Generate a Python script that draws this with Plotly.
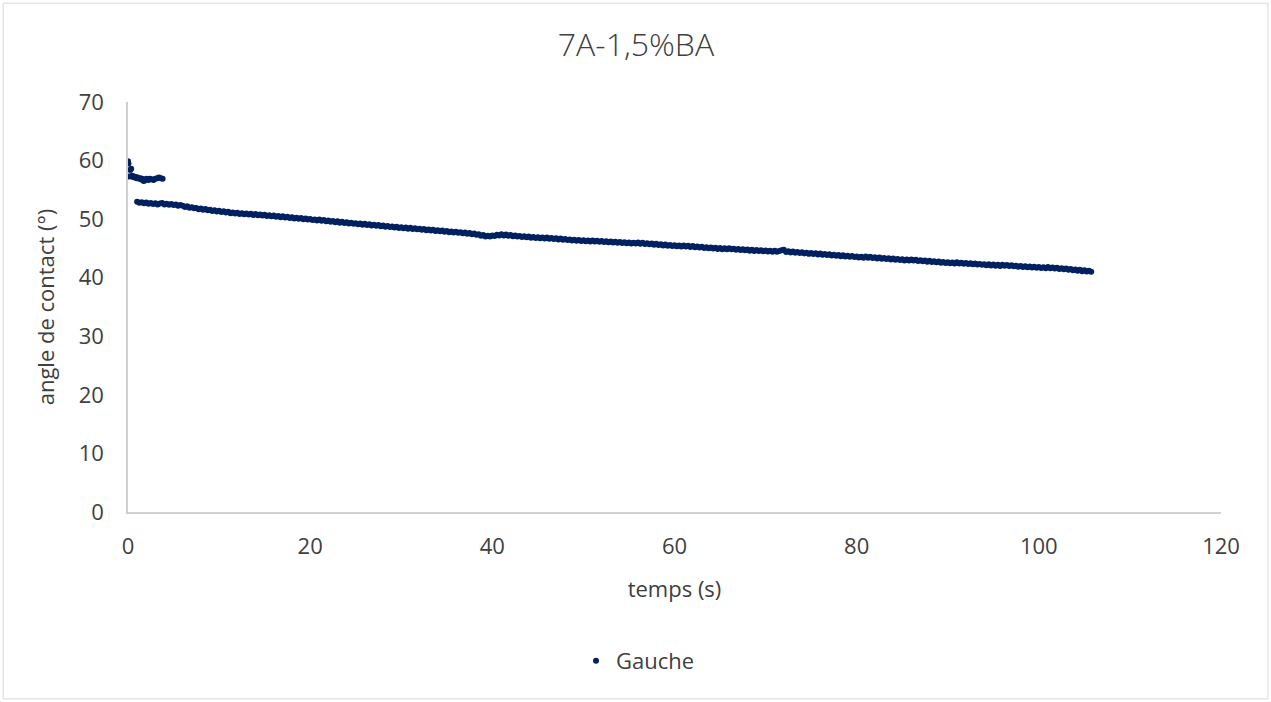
import plotly.graph_objects as go

# ---------------- data ----------------
title_text = "7A-1,5%BA"
x_title = "temps (s)"
y_title = "angle de contact (°)"
series_name = "Gauche"

# first seconds (separate cluster)
early_t = [0.00, 0.05, 0.15, 0.25, 0.35, 0.45, 0.55, 0.65, 0.75, 0.85, 0.95, 1.05,
           1.15, 1.25, 1.35, 1.45, 1.55, 1.65, 1.75, 1.85, 1.95, 2.05, 2.15, 2.25,
           2.40, 2.60, 2.80, 3.00, 3.20, 3.40, 3.60, 3.80]
early_y = [59.9, 59.5, 57.3, 58.4, 58.6, 57.4, 57.2, 57.3, 57.1, 57.2, 57.0, 57.1,
           57.0, 56.9, 57.0, 56.8, 56.9, 56.6, 56.5, 56.7, 56.8, 56.9, 56.8, 56.7,
           56.9, 56.8, 56.7, 56.9, 57.0, 57.1, 57.0, 56.9]

# main run, sampled every 0.25 s starting at 1.0 s
main_start = 1.0
main_step = 0.25
main_y = [
    52.95, 52.78, 52.88, 52.70, 52.84, 52.62, 52.76, 52.58, 52.72, 52.52, 52.66, 52.74, 52.50, 52.62, 52.46, 52.60, 52.40, 52.52, 52.30, 52.42,
    52.30, 52.08, 52.18, 51.96, 52.02, 51.84, 51.92, 51.70, 51.82, 51.60, 51.72, 51.52, 51.62, 51.40, 51.52, 51.32, 51.44, 51.22, 51.34, 51.15,
    51.25, 51.02, 51.14, 50.95, 51.08, 50.88, 51.00, 50.84, 50.96, 50.78, 50.90, 50.72, 50.86, 50.68, 50.80, 50.62, 50.74, 50.55, 50.68, 50.50,
    50.62, 50.42, 50.55, 50.34, 50.48, 50.26, 50.40, 50.20, 50.32, 50.12, 50.25, 50.05, 50.18, 49.98, 50.10, 49.92, 50.04, 49.84, 49.96, 49.78,
    49.92, 49.72, 49.84, 49.62, 49.76, 49.55, 49.68, 49.48, 49.62, 49.40, 49.55, 49.34, 49.46, 49.26, 49.40, 49.20, 49.32, 49.12, 49.26, 49.06,
    49.22, 49.00, 49.14, 48.92, 49.06, 48.86, 48.98, 48.78, 48.92, 48.70, 48.84, 48.64, 48.76, 48.56, 48.70, 48.50, 48.62, 48.44, 48.56, 48.36,
    48.52, 48.32, 48.46, 48.26, 48.38, 48.18, 48.32, 48.12, 48.24, 48.04, 48.18, 47.98, 48.10, 47.92, 48.04, 47.84, 47.96, 47.78, 47.90, 47.70,
    47.86, 47.66, 47.78, 47.58, 47.70, 47.50, 47.62, 47.42, 47.54, 47.32, 47.42, 47.18, 47.28, 47.05, 47.16, 47.02, 47.22, 47.14, 47.34, 47.20,
    47.40, 47.22, 47.36, 47.16, 47.30, 47.08, 47.22, 47.02, 47.14, 46.96, 47.08, 46.90, 47.02, 46.84, 46.96, 46.80, 46.92, 46.74, 46.86, 46.70,
    46.86, 46.66, 46.80, 46.60, 46.74, 46.54, 46.68, 46.48, 46.60, 46.42, 46.54, 46.36, 46.48, 46.30, 46.44, 46.26, 46.40, 46.22, 46.34, 46.18,
    46.36, 46.18, 46.30, 46.12, 46.26, 46.08, 46.22, 46.04, 46.18, 46.00, 46.14, 45.96, 46.10, 45.92, 46.06, 45.90, 46.02, 45.86, 45.98, 45.84,
    46.02, 45.82, 45.96, 45.76, 45.90, 45.70, 45.84, 45.64, 45.78, 45.58, 45.72, 45.52, 45.66, 45.46, 45.60, 45.42, 45.56, 45.38, 45.50, 45.34,
    45.52, 45.32, 45.46, 45.26, 45.40, 45.20, 45.34, 45.14, 45.28, 45.08, 45.22, 45.02, 45.16, 44.98, 45.10, 44.92, 45.06, 44.88, 45.02, 44.84,
    45.02, 44.84, 44.96, 44.78, 44.92, 44.72, 44.86, 44.68, 44.80, 44.62, 44.76, 44.58, 44.72, 44.54, 44.68, 44.50, 44.64, 44.46, 44.60, 44.42,
    44.62, 44.44, 44.58, 44.68, 44.76, 44.40, 44.50, 44.32, 44.46, 44.26, 44.40, 44.20, 44.34, 44.14, 44.28, 44.08, 44.22, 44.04, 44.16, 43.98,
    44.12, 43.92, 44.06, 43.86, 44.00, 43.80, 43.94, 43.74, 43.88, 43.68, 43.82, 43.62, 43.76, 43.56, 43.70, 43.52, 43.64, 43.46, 43.60, 43.42,
    43.62, 43.42, 43.56, 43.36, 43.50, 43.30, 43.44, 43.24, 43.38, 43.18, 43.32, 43.12, 43.26, 43.06, 43.20, 43.02, 43.14, 42.96, 43.10, 42.92,
    43.12, 42.92, 43.06, 42.86, 43.00, 42.80, 42.94, 42.74, 42.88, 42.68, 42.82, 42.62, 42.76, 42.56, 42.70, 42.52, 42.64, 42.46, 42.60, 42.42,
    42.62, 42.44, 42.56, 42.38, 42.52, 42.34, 42.46, 42.28, 42.42, 42.24, 42.36, 42.20, 42.32, 42.14, 42.28, 42.10, 42.24, 42.06, 42.20, 42.02,
    42.22, 42.04, 42.16, 41.98, 42.12, 41.94, 42.06, 41.88, 42.02, 41.84, 41.96, 41.80, 41.92, 41.74, 41.88, 41.70, 41.84, 41.66, 41.80, 41.62,
    41.82, 41.62, 41.76, 41.56, 41.70, 41.50, 41.62, 41.44, 41.56, 41.36, 41.48, 41.28, 41.42, 41.20, 41.34, 41.12, 41.26, 41.04, 41.18, 41.00,
]
main_t = [main_start + i * main_step for i in range(len(main_y))]

x_ticks = [0, 20, 40, 60, 80, 100, 120]
y_ticks = [0, 10, 20, 30, 40, 50, 60, 70]

# ---------------- layout ----------------
W, H = 1271, 702
ML, MR, MT, MB = 127.5, 49.5, 101.5, 189.7
PW = W - ML - MR
PH = H - MT - MB

FONT = "Open Sans"
TXT = "#404040"
NAVY = "#002060"
GRID = "#d0d0d0"

t_all = early_t + main_t
y_all = early_y + main_y

fig = go.Figure()
fig.add_trace(go.Scatter(
    x=t_all, y=y_all, mode="markers", name=series_name,
    marker=dict(color=NAVY, size=6, line=dict(width=0)),
    showlegend=True,
))

def px_x(p):
    return (p - ML) / PW

def px_y(p):
    return 1 - (p - MT) / PH

fig.update_layout(
    width=W, height=H,
    margin=dict(l=ML, r=MR, t=MT, b=MB, pad=0),
    paper_bgcolor="white", plot_bgcolor="white",
    font=dict(family=FONT, size=22, color=TXT),
    title=dict(text=title_text, x=636 / W, xanchor="center", xref="container",
               y=1 - 45 / H, yanchor="middle", yref="container",
               font=dict(family=FONT, size=32, color=TXT, weight=300)),
    xaxis=dict(range=[0, 120], tickvals=x_ticks, ticks="", showgrid=False,
               zeroline=False, showline=True, linecolor=GRID, linewidth=1.5,
               tickfont=dict(size=22, color=TXT), ticklabelstandoff=14,
               title=dict(text=x_title, font=dict(size=22, color=TXT), standoff=22)),
    yaxis=dict(range=[0, 70], tickvals=y_ticks, ticks="", showgrid=False,
               zeroline=False, showline=True, linecolor=GRID, linewidth=1.5,
               tickfont=dict(size=22, color=TXT), ticklabelstandoff=18,
               title=dict(text=y_title, font=dict(size=22, color=TXT), standoff=18)),
    legend=dict(orientation="h", x=638 / W, xanchor="center", xref="container",
                y=1 - 661 / H, yanchor="middle", yref="container",
                font=dict(size=22, color=TXT), bgcolor="rgba(0,0,0,0)"),
    shapes=[dict(type="rect", xref="paper", yref="paper",
                 x0=px_x(2.5), x1=px_x(1268.5), y0=px_y(699.5), y1=px_y(2.5),
                 line=dict(color="#d9d9d9", width=1), fillcolor="rgba(0,0,0,0)",
                 layer="below")],
)

fig.write_html("out.html", config={"displayModeBar": False},
               post_script="document.body.style.margin='0';document.body.style.overflow='hidden';")
